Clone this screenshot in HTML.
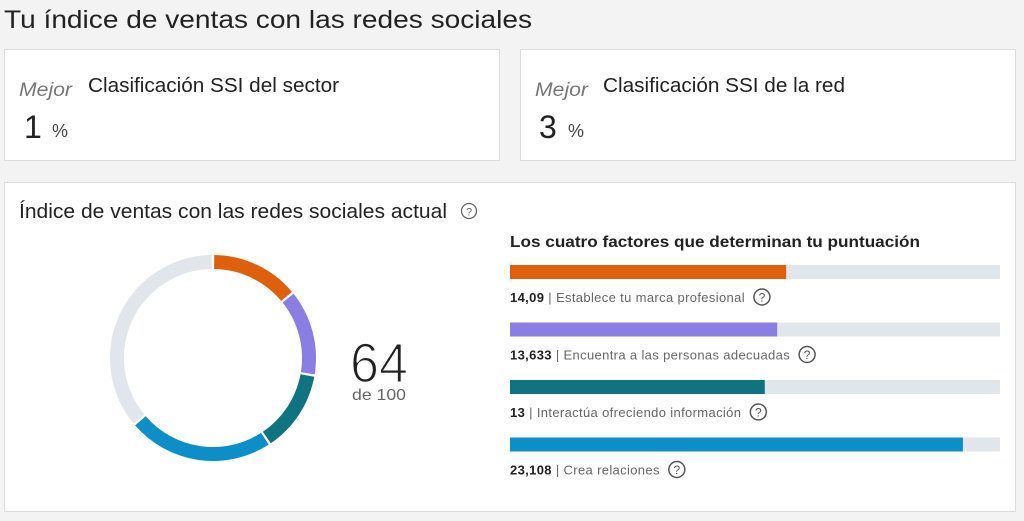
<!DOCTYPE html>
<html><head><meta charset="utf-8"><style>
body{margin:0;background:#f3f3f3;}
svg{display:block;font-family:"Liberation Sans",sans-serif;}
</style></head><body>
<svg id="s" width="1024" height="521" viewBox="0 0 1024 521">
<rect x="0" y="0" width="1024" height="521" fill="#f3f3f3"/>
<text x="4" y="28" font-size="25" fill="#222" textLength="528" lengthAdjust="spacingAndGlyphs">Tu índice de ventas con las redes sociales</text>

<g>
<rect x="4.5" y="49.5" width="495" height="111" fill="#fff" stroke="#dcdcdc"/>
<text x="19" y="96" font-size="19" font-style="italic" fill="#777" textLength="53" lengthAdjust="spacingAndGlyphs">Mejor</text>
<text x="88" y="92" font-size="20" fill="#222" textLength="251" lengthAdjust="spacingAndGlyphs">Clasificación SSI del sector</text>
<text x="24" y="138" font-size="32" fill="#222">1</text>
<text x="52" y="137" font-size="18" fill="#444">%</text>
</g>
<g>
<rect x="520.5" y="49.5" width="495" height="111" fill="#fff" stroke="#dcdcdc"/>
<text x="535" y="96" font-size="19" font-style="italic" fill="#777" textLength="53" lengthAdjust="spacingAndGlyphs">Mejor</text>
<text x="603" y="92" font-size="20" fill="#222" textLength="242" lengthAdjust="spacingAndGlyphs">Clasificación SSI de la red</text>
<text x="539" y="138" font-size="32" fill="#222">3</text>
<text x="568" y="137" font-size="18" fill="#444">%</text>
</g>

<g>
<rect x="4.5" y="182.5" width="1011" height="329" fill="#fff" stroke="#dcdcdc"/>
<text x="19" y="218" font-size="20" fill="#222" textLength="428" lengthAdjust="spacingAndGlyphs">Índice de ventas con las redes sociales actual</text>
<g><circle cx="469" cy="211" r="7.5" fill="none" stroke="#666" stroke-width="1.3"/><text x="469" y="215.5" font-size="11" text-anchor="middle" fill="#666">?</text></g>
<text x="510" y="247" font-size="16" font-weight="bold" fill="#222" textLength="410" lengthAdjust="spacingAndGlyphs">Los cuatro factores que determinan tu puntuación</text>
<g id="donut"></g>
<text x="379" y="382" font-size="56" fill="#222" stroke="#fff" stroke-width="1.6" text-anchor="middle" textLength="58" lengthAdjust="spacingAndGlyphs">64</text>
<text x="379" y="400" font-size="16" fill="#666" text-anchor="middle" textLength="54" lengthAdjust="spacingAndGlyphs">de 100</text>
<g id="bars"></g>
</g>
</svg>
<script>
const factors = ["Establece tu marca profesional","Encuentra a las personas adecuadas","Interactúa ofreciendo información","Crea relaciones"];
const valueLabels = ["14,09","13,633","13","23,108"];
const values = [14.09, 13.633, 13, 23.108];
const colors = ["#e05f0a","#8a7de3","#0e7580","#0a8fc8"];
const maxFactor = 25;
const NS="http://www.w3.org/2000/svg";
function mk(t,a,p){const e=document.createElementNS(NS,t);for(const k in a)e.setAttribute(k,a[k]);p.appendChild(e);return e;}
const cx=213,cy=358,r=96,sw=14,total=100;
const donut=document.getElementById('donut');
function ang(v){return v/total*2*Math.PI;}
function pt(a){return [cx+r*Math.sin(a),cy-r*Math.cos(a)];}
function arc(a0,a1,color,name){
  const p0=pt(a0),p1=pt(a1),large=(a1-a0)>Math.PI?1:0;
  const e=mk('path',{d:`M${p0[0]},${p0[1]} A${r},${r} 0 ${large} 1 ${p1[0]},${p1[1]}`,fill:'none',stroke:color,'stroke-width':sw},donut);
  
  
}
let acc=0;const gap=0.012;
const sum=values.reduce((a,b)=>a+b,0);
arc(ang(sum)+gap,2*Math.PI-gap,'#e1e6ec','donut-remainder');
values.forEach((v,i)=>{arc(ang(acc)+gap,ang(acc+v)-gap,colors[i],'donut-segment-'+(i+1));acc+=v;});
const bars=document.getElementById('bars');
const bx=510,bw=490,bh=14;
function xs(v){return v/maxFactor*bw;}
values.forEach((v,i)=>{
  const y=265+i*57.5;
  const g=mk('g',{},bars);
  
  
  mk('rect',{x:bx,y:y,width:bw,height:bh,fill:'#e1e6ec'},g);
  const b=mk('rect',{x:bx,y:y,width:xs(v),height:bh,fill:colors[i]},g);
  
  
  const t=mk('text',{x:bx,y:y+37,'font-size':13,fill:'#666','letter-spacing':'0.35'},g);
  
  
  const ts=mk('tspan',{'font-weight':'bold',fill:'#222'},t);ts.textContent=valueLabels[i];
  const t2=mk('tspan',{},t);t2.textContent=' | '+factors[i];
  const w=t.getComputedTextLength();
  const hx=bx+w+17;
  const h=mk('g',{},g);
  
  
  mk('circle',{cx:hx,cy:y+32,r:8,fill:'none',stroke:'#555','stroke-width':1.5},h);
  const q=mk('text',{x:hx,y:y+36.5,'font-size':12,'text-anchor':'middle',fill:'#555'},h);q.textContent='?';
});
</script>
</body></html>
